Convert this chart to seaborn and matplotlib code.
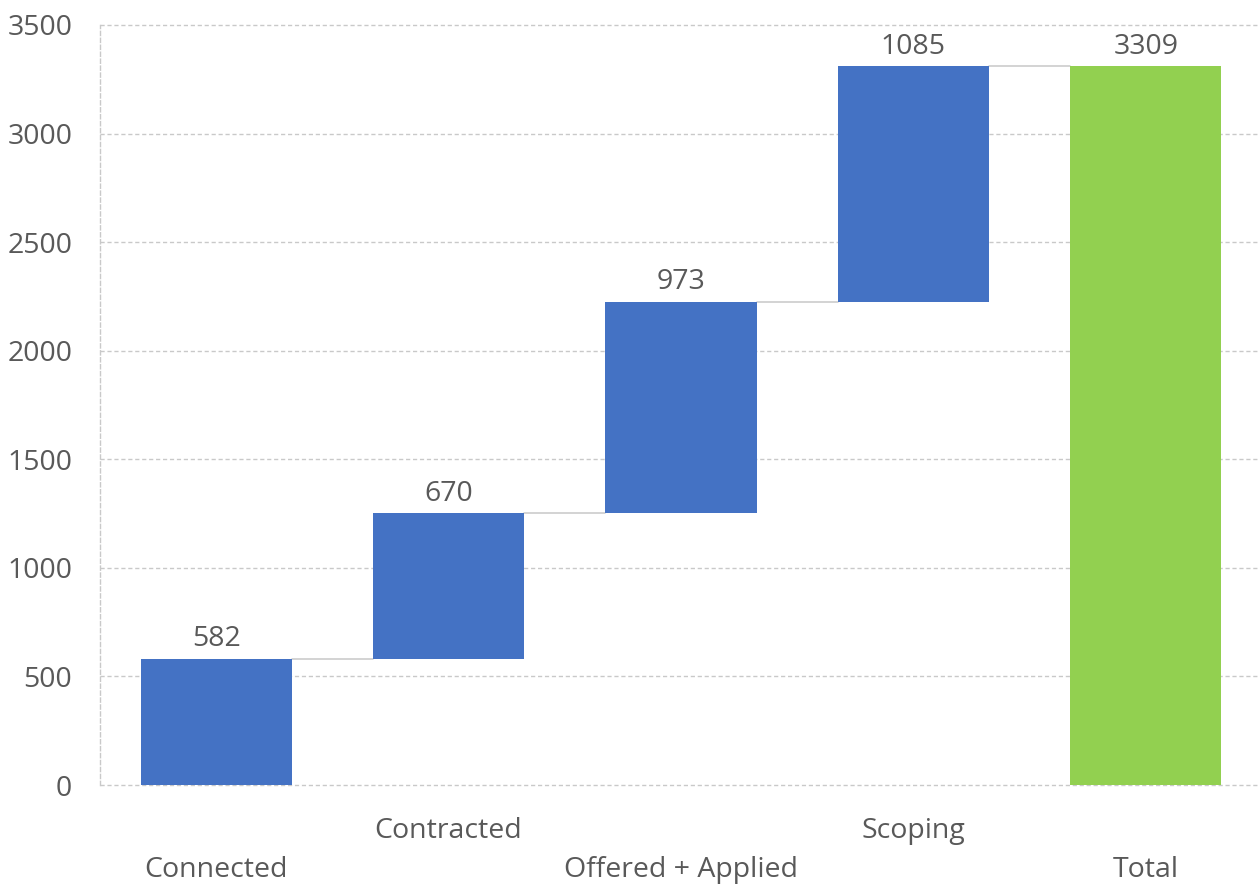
import numpy as np
import pandas as pd
import matplotlib
matplotlib.use("Agg")
import matplotlib.pyplot as plt
import seaborn as sns

categories = ["Connected", "Contracted", "Offered + Applied", "Scoping", "Total"]
steps      = [582, 670, 973, 1085]
total      = 3309
y_ticks    = [0, 500, 1000, 1500, 2000, 2500, 3000, 3500]

BLUE  = "#4472C4"
GREEN = "#92D050"
TXT   = "#595959"
GRID  = "#C9C9C9"
FS    = 20.5

sns.set_style("white")
plt.rcParams["font.family"] = ["Open Sans", "DejaVu Sans"]

# waterfall: each step starts where the previous ended, total starts at 0
ends    = list(np.cumsum(steps))
bottoms = [0] + ends[:-1] + [0]
heights = steps + [total]
labels  = steps + [total]
colors  = [BLUE] * len(steps) + [GREEN]

df = pd.DataFrame({"stage": categories, "height": heights})

fig = plt.figure(figsize=(12.58, 8.84), dpi=100)
ax = fig.add_axes([100 / 1258, 99 / 884, 1162 / 1258, 760 / 884])

sns.barplot(data=df, x="stage", y="height", order=categories, bottom=bottoms,
            color=BLUE, saturation=1, width=0.65, errorbar=None, ax=ax,
            zorder=3, linewidth=0)
for patch, c in zip(ax.patches, colors):
    patch.set_facecolor(c)

# connector lines between bars
for i, lvl in enumerate(ends):
    ax.plot([i + 0.325, i + 1 - 0.325], [lvl, lvl], color="#C8C8C8", lw=1.1, zorder=2)

# value labels above bars
for i, (b, h, v) in enumerate(zip(bottoms, heights, labels)):
    ax.text(i, b + h + 25, f"{v}", ha="center", va="bottom", fontsize=FS, color=TXT)

ax.set_xlim(-0.5, 4.5)
ax.set_ylim(0, 3500)
ax.set_yticks(y_ticks)
ax.yaxis.grid(True, color=GRID, linestyle=(0, (3, 2)), linewidth=1, zorder=0)
for gl in ax.get_ygridlines():
    gl.set_clip_on(False)
ax.set_axisbelow(True)
ax.set_xlabel("")
ax.set_ylabel("")

for side in ["top", "right", "bottom"]:
    ax.spines[side].set_visible(False)
ax.spines["left"].set_color(GRID)
ax.spines["left"].set_linestyle((0, (3, 2)))
ax.spines["left"].set_linewidth(1)

ax.tick_params(axis="y", length=0, pad=20, labelsize=FS, labelcolor=TXT)
ax.tick_params(axis="x", length=0, labelsize=FS, labelcolor=TXT)
ax.set_xticks(range(len(categories)))
ax.set_xticklabels(categories)
# staggered category labels, as in Excel
for i, t in enumerate(ax.xaxis.get_major_ticks()):
    t.set_pad(23 if i % 2 else 51)

fig.savefig("out.png", dpi=100)
